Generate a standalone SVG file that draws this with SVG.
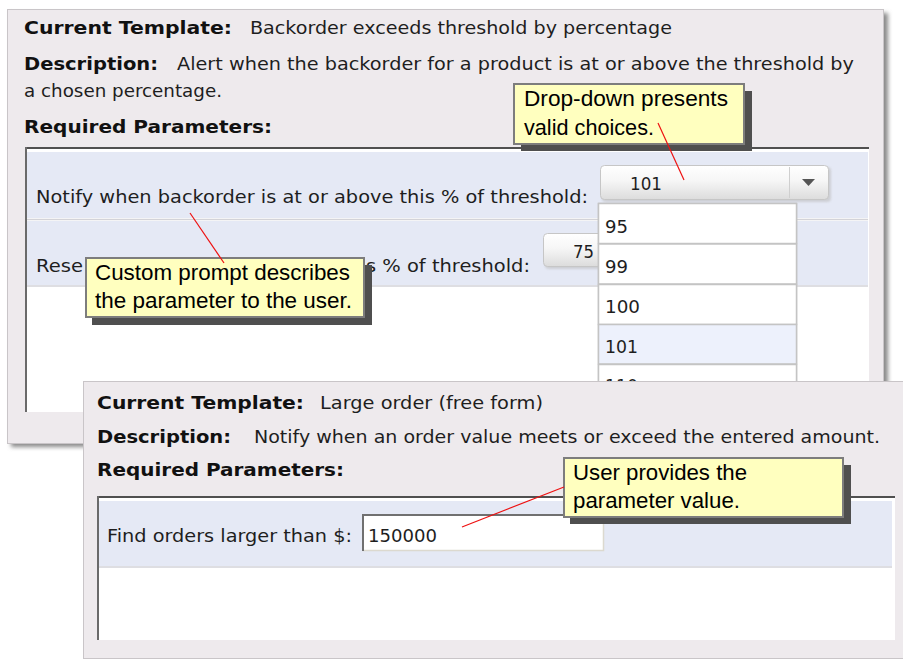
<svg xmlns="http://www.w3.org/2000/svg" width="903" height="660" viewBox="0 0 903 660">
<defs>
  <style>
    .ui{font-family:"DejaVu Sans","Liberation Sans",sans-serif;font-size:18px;fill:#1e1e1e;}
    .b{font-weight:bold;fill:#111;}
    .co{font-family:"Liberation Sans","Noto Sans",sans-serif;font-size:22px;fill:#000;}
    .panel{fill:#eeeaed;stroke:#c9c5c8;stroke-width:1;}
    .row{fill:#e5e9f5;}
    .sep{stroke:#d3d3d8;stroke-width:1.5;}
    .box-top{stroke:#505050;stroke-width:2;}
    .box-left{stroke:#6a6a6a;stroke-width:2;}
    .callout{fill:#ffffbf;stroke:#7d7d7d;stroke-width:2;}
    .cshadow{fill:#4f4f4f;}
    .combo{fill:url(#comboGrad);stroke:#c6c6c6;stroke-width:1;}
    .item{fill:#ffffff;stroke:#c4c4c4;stroke-width:1.5;}
    .conn{stroke:#ee1111;stroke-width:1.2;fill:none;}
  </style>
  <linearGradient id="comboGrad" x1="0" y1="0" x2="0" y2="1">
    <stop offset="0" stop-color="#ffffff"/>
    <stop offset="0.45" stop-color="#f6f6f6"/>
    <stop offset="1" stop-color="#dcdcdc"/>
  </linearGradient>
  <filter id="blur" x="-5%" y="-5%" width="110%" height="110%">
    <feGaussianBlur stdDeviation="2"/>
  </filter>
  <filter id="sblur" x="-10%" y="-30%" width="120%" height="160%">
    <feGaussianBlur stdDeviation="1.2"/>
  </filter>
</defs>

<rect width="903" height="660" fill="#ffffff"/>

<!-- Back window -->
<g id="back-panel">
  <rect x="11" y="13" width="877" height="434" fill="#8a8a8a" filter="url(#blur)"/>
  <rect class="panel" x="7.5" y="9.5" width="876" height="434"/>
  <text class="ui b" x="24" y="34" textLength="208" lengthAdjust="spacingAndGlyphs">Current Template:</text>
  <text class="ui" x="250" y="34" textLength="422" lengthAdjust="spacingAndGlyphs">Backorder exceeds threshold by percentage</text>
  <text class="ui b" x="24" y="70" textLength="134" lengthAdjust="spacingAndGlyphs">Description:</text>
  <text class="ui" x="177" y="70" textLength="677" lengthAdjust="spacingAndGlyphs">Alert when the backorder for a product is at or above the threshold by</text>
  <text class="ui" x="24" y="97" textLength="198" lengthAdjust="spacingAndGlyphs">a chosen percentage.</text>
  <text class="ui b" x="24" y="133" textLength="248" lengthAdjust="spacingAndGlyphs">Required Parameters:</text>

  <rect x="26" y="147" width="843" height="265" fill="#ffffff"/>
  <line class="box-top" x1="25" y1="148" x2="869" y2="148"/>
  <line class="box-left" x1="26" y1="147" x2="26" y2="412"/>
  <rect class="row" x="27" y="152" width="841" height="66"/>
  <line class="sep" x1="27" y1="219.5" x2="868" y2="219.5"/>
  <rect class="row" x="27" y="221" width="841" height="64"/>
  <line class="sep" x1="27" y1="286" x2="868" y2="286"/>

  <text class="ui" x="36" y="203" textLength="552" lengthAdjust="spacingAndGlyphs">Notify when backorder is at or above this % of threshold:</text>
  <text class="ui" x="36" y="272" textLength="47" lengthAdjust="spacingAndGlyphs">Rese</text>
  <text class="ui" x="366" y="272" textLength="164" lengthAdjust="spacingAndGlyphs">s % of threshold:</text>
</g>

<g id="combo-notify">
  <rect x="602" y="167" width="229" height="35" rx="4" fill="#bdbdbd" opacity="0.6" filter="url(#sblur)"/>
  <rect class="combo" x="600.5" y="165.5" width="228" height="34" rx="4"/>
  <line x1="789.5" y1="167" x2="789.5" y2="198" stroke="#cfcfcf" stroke-width="1"/>
  <polygon points="802,179 815,179 808.5,186" fill="#555555"/>
  <text class="ui" x="630" y="190" textLength="32" lengthAdjust="spacingAndGlyphs">101</text>
</g>

<g id="combo-reset">
  <rect x="545" y="235" width="60" height="34" rx="4" fill="#bdbdbd" opacity="0.6" filter="url(#sblur)"/>
  <rect class="combo" x="543.5" y="233.5" width="60" height="33" rx="4"/>
  <text class="ui" x="573" y="258" textLength="21" lengthAdjust="spacingAndGlyphs">75</text>
</g>

<g id="dropdown-list">
  <rect x="598.5" y="203.5" width="198" height="190" fill="#ffffff" stroke="#c4c4c4" stroke-width="1.5"/>
  <rect class="item" x="598.5" y="203.5" width="198" height="40"/>
  <rect class="item" x="598.5" y="244" width="198" height="40"/>
  <rect class="item" x="598.5" y="284.5" width="198" height="40"/>
  <rect class="item" x="598.5" y="324.5" width="198" height="39.5" style="fill:#edf1fc"/>
  <rect class="item" x="598.5" y="364.5" width="198" height="40"/>
  <text class="ui" x="605" y="233" textLength="23" lengthAdjust="spacingAndGlyphs">95</text>
  <text class="ui" x="605" y="273" textLength="23" lengthAdjust="spacingAndGlyphs">99</text>
  <text class="ui" x="605" y="313" textLength="35" lengthAdjust="spacingAndGlyphs">100</text>
  <text class="ui" x="605" y="353" textLength="33" lengthAdjust="spacingAndGlyphs">101</text>
  <text class="ui" x="605" y="392" textLength="33" lengthAdjust="spacingAndGlyphs">110</text>
</g>

<g id="callout-dropdown">
  <rect class="cshadow" x="521" y="91" width="231" height="60"/>
  <rect class="callout" x="514" y="84" width="230" height="60"/>
  <text class="co" x="524" y="106" textLength="204" lengthAdjust="spacingAndGlyphs">Drop-down presents</text>
  <text class="co" x="524" y="135" textLength="130" lengthAdjust="spacingAndGlyphs">valid choices.</text>
</g>

<g id="callout-prompt">
  <rect class="cshadow" x="92" y="265" width="280" height="60"/>
  <rect class="callout" x="86" y="258" width="278" height="59"/>
  <text class="co" x="95" y="280" textLength="255" lengthAdjust="spacingAndGlyphs">Custom prompt describes</text>
  <text class="co" x="95" y="308" textLength="257" lengthAdjust="spacingAndGlyphs">the parameter to the user.</text>
</g>

<!-- Front window -->
<g id="front-panel">
  <rect class="panel" x="83.5" y="381.5" width="826" height="277"/>
  <text class="ui b" x="97" y="409" textLength="207" lengthAdjust="spacingAndGlyphs">Current Template:</text>
  <text class="ui" x="320" y="409" textLength="223" lengthAdjust="spacingAndGlyphs">Large order (free form)</text>
  <text class="ui b" x="97" y="443" textLength="134" lengthAdjust="spacingAndGlyphs">Description:</text>
  <text class="ui" x="254" y="443" textLength="626" lengthAdjust="spacingAndGlyphs">Notify when an order value meets or exceed the entered amount.</text>
  <text class="ui b" x="97" y="476" textLength="247" lengthAdjust="spacingAndGlyphs">Required Parameters:</text>

  <rect x="97" y="496" width="798" height="144" fill="#ffffff"/>
  <line class="box-top" x1="97" y1="497" x2="895" y2="497"/>
  <line class="box-left" x1="98" y1="496" x2="98" y2="640"/>
  <rect class="row" x="99" y="501" width="793" height="65"/>
  <line class="sep" x1="99" y1="567" x2="892" y2="567"/>

  <text class="ui" x="107" y="542" textLength="245" lengthAdjust="spacingAndGlyphs">Find orders larger than $:</text>
  <rect x="362" y="514" width="242" height="37" fill="#ffffff"/>
  <polyline points="603.5,514.5 603.5,550.5 362.5,550.5" fill="none" stroke="#dcd9cf" stroke-width="1.5"/>
  <polyline points="363,551 363,515 604,515" fill="none" stroke="#707070" stroke-width="2"/>
  <text class="ui" x="368" y="542" textLength="69" lengthAdjust="spacingAndGlyphs">150000</text>
</g>

<g id="callout-user">
  <rect class="cshadow" x="570" y="465" width="281" height="59"/>
  <rect class="callout" x="564" y="458" width="279" height="59"/>
  <text class="co" x="573" y="480" textLength="174" lengthAdjust="spacingAndGlyphs">User provides the</text>
  <text class="co" x="573" y="508" textLength="167" lengthAdjust="spacingAndGlyphs">parameter value.</text>
</g>

<g id="connectors">
  <line class="conn" x1="658" y1="123" x2="684" y2="180"/>
  <line class="conn" x1="190" y1="213" x2="224" y2="263"/>
  <line class="conn" x1="462" y1="527" x2="564" y2="487"/>
</g>
</svg>
